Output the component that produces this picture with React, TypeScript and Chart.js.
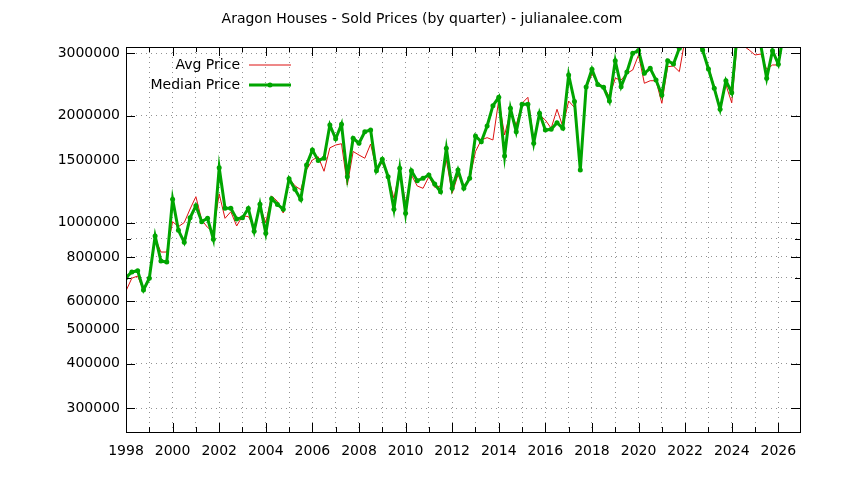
import { useEffect, useRef } from "react";
import { Chart, registerables } from "chart.js";

Chart.register(...registerables);

const TITLE = "Aragon Houses - Sold Prices (by quarter) - julianalee.com";
const START_YEAR = 1998;

// quarterly values, 1998 Q1 onwards
const AVG_PRICE = [
  642000, 697000, 707000, 644000, 703000, 905000, 826000, 826000,
  1006000, 974000, 1000000, 1092000, 1183000, 1017000, 969000, 943000,
  1205000, 1028000, 1073000, 978000, 1044000, 1040000, 974000, 1109000,
  1000000, 1188000, 1148000, 1064000, 1333000, 1270000, 1238000, 1409000,
  1501000, 1533000, 1395000, 1624000, 1654000, 1668000, 1276000, 1586000,
  1550000, 1518000, 1665000, 1413000, 1475000, 1347000, 1171000, 1406000,
  1133000, 1362000, 1268000, 1249000, 1347000, 1257000, 1268000, 1501000,
  1209000, 1362000, 1276000, 1324000, 1584000, 1709000, 1735000, 1709000,
  2215000, 1765000, 2053000, 1883000, 2168000, 2254000, 1709000, 2010000,
  1945000, 1844000, 2085000, 1863000, 2200000, 2110000, 1415000, 2389000,
  2622000, 2474000, 2414000, 2263000, 2550000, 2522000, 2634000, 2691000,
  2966000, 2469000, 2510000, 2510000, 2168000, 2749000, 2761000, 2662000,
  3300000, 3450000, 3250000, 3030000, 2750000, 2414000, 2117000, 2442000,
  2176000, 3300000, 3150000, 3063000, 2966000, 2985000, 2703000, 2780000,
  2780000, 3400000,
];

const MEDIAN_PRICE = [
  700000, 726000, 732000, 646000, 697000, 917000, 779000, 774000,
  1164000, 951000, 880000, 1032000, 1115000, 1006000, 1028000, 897000,
  1427000, 1097000, 1097000, 1024000, 1032000, 1096000, 946000, 1127000,
  933000, 1168000, 1125000, 1091000, 1329000, 1242000, 1163000, 1453000,
  1602000, 1496000, 1518000, 1883000, 1723000, 1893000, 1347000, 1728000,
  1673000, 1803000, 1823000, 1400000, 1508000, 1347000, 1090000, 1422000,
  1062000, 1400000, 1312000, 1333000, 1362000, 1284000, 1222000, 1619000,
  1249000, 1406000, 1249000, 1333000, 1754000, 1690000, 1871000, 2135000,
  2254000, 1540000, 2099000, 1803000, 2154000, 2154000, 1673000, 2032000,
  1823000, 1832000, 1911000, 1844000, 2605000, 2193000, 1406000, 2410000,
  2703000, 2449000, 2405000, 2200000, 2858000, 2414000, 2657000, 3000000,
  3054000, 2634000, 2720000, 2522000, 2288000, 2858000, 2798000, 3097000,
  3400000, 3500000, 3300000, 3063000, 2708000, 2389000, 2085000, 2510000,
  2322000, 3500000, 3700000, 3600000, 3400000, 3150000, 2550000, 3050000,
  2792000, 3500000,
];

const YEAR_TICKS = [
  1998, 1999, 2000, 2001, 2002, 2003, 2004, 2005, 2006, 2007, 2008, 2009, 2010,
  2011, 2012, 2013, 2014, 2015, 2016, 2017, 2018, 2019, 2020, 2021, 2022, 2023,
  2024, 2025, 2026,
];
const PRICE_TICKS = [
  300000, 400000, 500000, 600000, 700000, 800000, 900000, 1000000, 1500000,
  2000000, 3000000,
];
const PRICE_LABELS = [
  300000, 400000, 500000, 600000, 800000, 1000000, 1500000, 2000000, 3000000,
];

const FONT = "'DejaVu Sans', sans-serif";
const RED = "#dd1111";
const GREEN = "#00a500";
const GRID = "rgba(120,120,120,0.8)";

const toPoints = (vals: number[]) =>
  vals.map((v, i) => ({ x: START_YEAR + i * 0.25, y: v }));

// gnuplot-like title, frame, inward ticks and legend
const framePlugin = {
  id: "frame",
  afterDraw(chart: Chart) {
    const { ctx, chartArea: a } = chart;
    const xs = chart.scales.x;
    const ys = chart.scales.y;
    ctx.save();

    ctx.font = `14px ${FONT}`;
    ctx.fillStyle = "#000";
    ctx.textAlign = "center";
    ctx.textBaseline = "middle";
    ctx.fillText(TITLE, chart.width / 2, 19);

    ctx.strokeStyle = "#000";
    ctx.lineWidth = 1;
    ctx.strokeRect(a.left + 0.5, a.top + 0.5, a.right - a.left, a.bottom - a.top);
    ctx.beginPath();
    YEAR_TICKS.forEach((yr) => {
      const px = Math.round(xs.getPixelForValue(yr)) + 0.5;
      const len = yr % 2 === 0 ? 9 : 5;
      ctx.moveTo(px, a.bottom);
      ctx.lineTo(px, a.bottom - len);
      ctx.moveTo(px, a.top);
      ctx.lineTo(px, a.top + len);
    });
    PRICE_TICKS.forEach((v) => {
      const py = Math.round(ys.getPixelForValue(v)) + 0.5;
      const len = PRICE_LABELS.includes(v) ? 9 : 5;
      ctx.moveTo(a.left, py);
      ctx.lineTo(a.left + len, py);
      ctx.moveTo(a.right, py);
      ctx.lineTo(a.right - len, py);
    });
    ctx.stroke();

    // legend
    ctx.textAlign = "right";
    chart.data.datasets.forEach((ds: any, i: number) => {
      const y = 65 + i * 20;
      ctx.fillStyle = "#000";
      ctx.fillText(ds.label, 240, y);
      ctx.beginPath();
      ctx.strokeStyle = ds.borderColor;
      ctx.lineWidth = ds.borderWidth;
      ctx.moveTo(249, y);
      ctx.lineTo(291, y);
      ctx.stroke();
      if (ds.pointRadius > 0) {
        ctx.beginPath();
        ctx.fillStyle = ds.pointBackgroundColor;
        ctx.arc(270, y, ds.pointRadius, 0, Math.PI * 2);
        ctx.fill();
      }
    });
    ctx.restore();
  },
};

export default function App() {
  const ref = useRef<HTMLCanvasElement | null>(null);

  useEffect(() => {
    if (!ref.current) return;
    const chart = new Chart(ref.current, {
      type: "line",
      data: {
        datasets: [
          {
            label: "Avg Price",
            data: toPoints(AVG_PRICE),
            borderColor: RED,
            borderWidth: 1,
            pointRadius: 0,
            order: 1,
          },
          {
            label: "Median Price",
            data: toPoints(MEDIAN_PRICE),
            borderColor: GREEN,
            borderWidth: 3,
            pointRadius: 2.5,
            pointBackgroundColor: GREEN,
            pointBorderWidth: 0,
            order: 0,
          },
        ],
      },
      options: {
        animation: false,
        responsive: true,
        maintainAspectRatio: false,
        layout: { padding: { left: 0, right: 44, top: 47, bottom: 0 } },
        plugins: {
          legend: { display: false },
          tooltip: { enabled: false },
          title: { display: false },
        },
        scales: {
          x: {
            type: "linear",
            min: START_YEAR,
            max: 2026.93,
            afterBuildTicks: (s: any) => {
              s.ticks = YEAR_TICKS.map((v) => ({ value: v }));
            },
            afterFit: (s: any) => {
              s.height = 48;
            },
            grid: { color: GRID, lineWidth: 1, drawTicks: false },
            border: { display: false, dash: [1, 4] },
            ticks: {
              autoSkip: false,
              maxRotation: 0,
              padding: 11,
              color: "#000",
              font: { family: FONT, size: 14 },
              callback: (v: any) => (Number(v) % 2 === 0 ? String(v) : ""),
            },
          },
          y: {
            type: "logarithmic",
            min: 257000,
            max: 3124000,
            afterBuildTicks: (s: any) => {
              s.ticks = PRICE_TICKS.map((v) => ({ value: v }));
            },
            afterFit: (s: any) => {
              s.width = 126;
            },
            grid: { color: GRID, lineWidth: 1, drawTicks: false },
            border: { display: false, dash: [1, 4] },
            ticks: {
              autoSkip: false,
              padding: 6,
              color: "#000",
              font: { family: FONT, size: 14 },
              callback: (v: any) =>
                PRICE_LABELS.includes(Number(v)) ? String(v) : "",
            },
          },
        },
      },
      plugins: [framePlugin],
    });
    return () => chart.destroy();
  }, []);

  return (
    <div style={{ position: "absolute", left: 0, top: 0, width: 844, height: 480, background: "#fff" }}>
      <canvas ref={ref} />
    </div>
  );
}
